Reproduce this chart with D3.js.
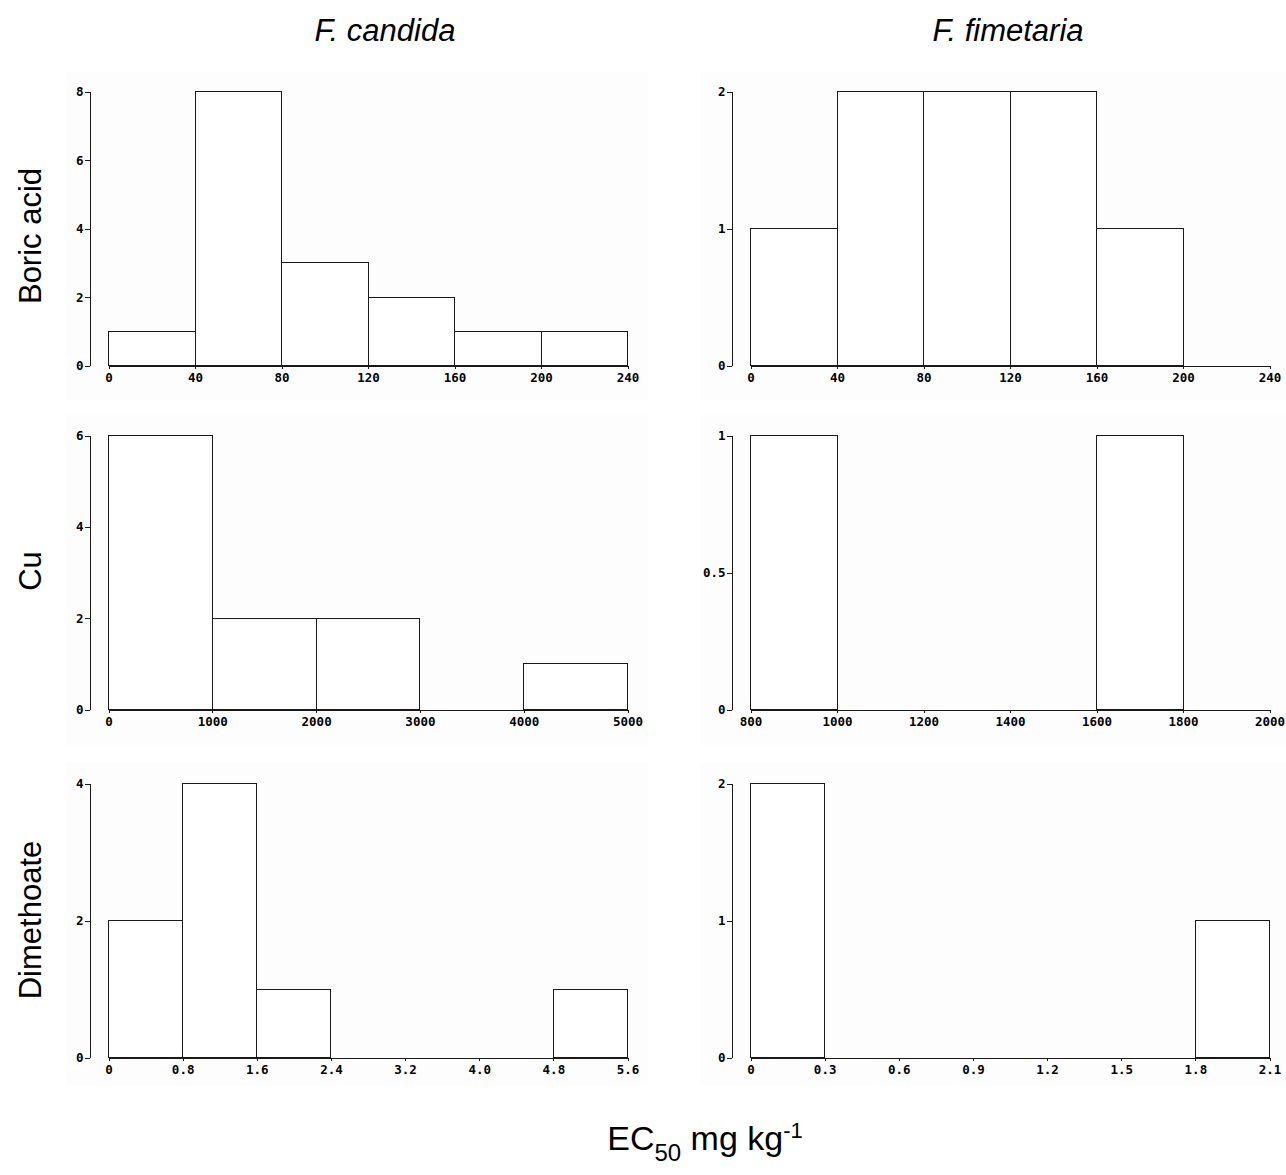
<!DOCTYPE html>
<html>
<head>
<meta charset="utf-8">
<script src="https://cdn.jsdelivr.net/npm/d3@7"></script>
<style>
body { margin: 0; background: #fff; }
svg { display: block; }
.tick text { font-family: 'DejaVu Sans Mono', monospace; font-weight: bold; font-size: 12.5px; fill: #000; }
.lab { font-family: 'Liberation Sans', Arial, sans-serif; fill: #000; }
</style>
</head>
<body>
<div id="chart"></div>
<script>
// species (columns) and substances (rows)
var SPECIES = ['F. candida', 'F. fimetaria'];
var SUBSTANCES = ['Boric acid', 'Cu', 'Dimethoate'];

// bin edges and counts per panel
var boricCandidaEdges = [0, 40, 80, 120, 160, 200, 240];
var boricCandidaCounts = [1, 8, 3, 2, 1, 1];
var boricCandidaYTicks = [0, 2, 4, 6, 8];
var boricCandidaLabels = ['0', '40', '80', '120', '160', '200', '240'];

var boricFimetariaEdges = [0, 40, 80, 120, 160, 200, 240];
var boricFimetariaCounts = [1, 2, 2, 2, 1, 0];
var boricFimetariaYTicks = [0, 1, 2];
var boricFimetariaLabels = ['0', '40', '80', '120', '160', '200', '240'];

var cuCandidaEdges = [0, 1000, 2000, 3000, 4000, 5000];
var cuCandidaCounts = [6, 2, 2, 0, 1];
var cuCandidaYTicks = [0, 2, 4, 6];
var cuCandidaLabels = ['0', '1000', '2000', '3000', '4000', '5000'];

var cuFimetariaEdges = [800, 1000, 1200, 1400, 1600, 1800, 2000];
var cuFimetariaCounts = [1, 0, 0, 0, 1, 0];
var cuFimetariaYTicks = [0, 0.5, 1];
var cuFimetariaLabels = ['800', '1000', '1200', '1400', '1600', '1800', '2000'];

var dimCandidaEdges = [0, 0.8, 1.6, 2.4, 3.2, 4.0, 4.8, 5.6];
var dimCandidaCounts = [2, 4, 1, 0, 0, 0, 1];
var dimCandidaYTicks = [0, 2, 4];
var dimCandidaLabels = ['0', '0.8', '1.6', '2.4', '3.2', '4.0', '4.8', '5.6'];

var dimFimetariaEdges = [0, 0.3, 0.6, 0.9, 1.2, 1.5, 1.8, 2.1];
var dimFimetariaCounts = [2, 0, 0, 0, 0, 0, 1];
var dimFimetariaYTicks = [0, 1, 2];
var dimFimetariaLabels = ['0', '0.3', '0.6', '0.9', '1.2', '1.5', '1.8', '2.1'];

var panels = [
    {row: 0, col: 0, edges: boricCandidaEdges, counts: boricCandidaCounts, yt: boricCandidaYTicks, xl: boricCandidaLabels},
    {row: 0, col: 1, edges: boricFimetariaEdges, counts: boricFimetariaCounts, yt: boricFimetariaYTicks, xl: boricFimetariaLabels},
    {row: 1, col: 0, edges: cuCandidaEdges, counts: cuCandidaCounts, yt: cuCandidaYTicks, xl: cuCandidaLabels},
    {row: 1, col: 1, edges: cuFimetariaEdges, counts: cuFimetariaCounts, yt: cuFimetariaYTicks, xl: cuFimetariaLabels},
    {row: 2, col: 0, edges: dimCandidaEdges, counts: dimCandidaCounts, yt: dimCandidaYTicks, xl: dimCandidaLabels},
    {row: 2, col: 1, edges: dimFimetariaEdges, counts: dimFimetariaCounts, yt: dimFimetariaYTicks, xl: dimFimetariaLabels}
];

var WIDTH = 1286, HEIGHT = 1175;
var PLOT_W = 519, PLOT_H = 274;
var COL_X = [108, 750];
var ROW_Y = [365, 709, 1057];
var AXIS_GAP = 19;
var INK = '#1a1a1a';

var svg = d3.select('#chart').append('svg')
    .attr('width', WIDTH)
    .attr('height', HEIGHT);

// faint panel backgrounds
var BG_X = [[66, 648], [700, 1286]];
var BG_Y = [[72, 400], [415, 745], [762, 1085]];
for (var r = 0; r < 3; r++) {
    for (var c = 0; c < 2; c++) {
        svg.append('rect')
            .attr('x', BG_X[c][0]).attr('y', BG_Y[r][0])
            .attr('width', BG_X[c][1] - BG_X[c][0])
            .attr('height', BG_Y[r][1] - BG_Y[r][0])
            .attr('fill', '#fdfdfd');
    }
}

panels.forEach(function(p) {
    var n = p.edges.length;
    var sx = d3.scaleLinear()
        .domain([p.edges[0], p.edges[n - 1]])
        .range([0, PLOT_W]);
    var sy = d3.scaleLinear()
        .domain([0, p.yt[p.yt.length - 1]])
        .range([0, -PLOT_H]);

    var g = svg.append('g')
        .attr('transform', 'translate(' + (COL_X[p.col] + 0.5) + ', ' + (ROW_Y[p.row] + 0.5) + ')');

    var bins = p.counts.map(function(v, i) {
        return {x0: p.edges[i], x1: p.edges[i + 1], n: v};
    }).filter(function(b) { return b.n > 0; });

    g.selectAll('.bar').data(bins).enter()
        .append('rect')
        .attr('class', 'bar')
        .attr('x', function(d) { return sx(d.x0); })
        .attr('y', function(d) { return sy(d.n); })
        .attr('width', function(d) { return sx(d.x1) - sx(d.x0); })
        .attr('height', function(d) { return -sy(d.n); })
        .attr('fill', '#fff')
        .attr('stroke', INK)
        .attr('stroke-width', 1)
        .attr('shape-rendering', 'crispEdges');

    var ax = d3.axisBottom(sx)
        .tickValues(p.edges)
        .tickFormat(function(d, i) { return p.xl[i]; })
        .tickSize(3)
        .tickSizeOuter(0)
        .tickPadding(5);
    var ay = d3.axisLeft(sy)
        .tickValues(p.yt)
        .tickFormat(function(d) { return String(d); })
        .tickSize(5)
        .tickSizeOuter(0)
        .tickPadding(1);

    var gx = g.append('g').call(ax);
    var gy = g.append('g')
        .attr('transform', 'translate(' + (-AXIS_GAP) + ', 0)')
        .call(ay);

    [gx, gy].forEach(function(a) {
        a.select('.domain').attr('stroke', INK).attr('shape-rendering', 'crispEdges');
        a.selectAll('.tick line').attr('stroke', INK).attr('shape-rendering', 'crispEdges');
    });
});

// column titles
var TITLE_X = [385, 1008];
svg.selectAll('.title').data(SPECIES).enter()
    .append('text')
    .attr('class', 'lab title')
    .attr('x', function(d, i) { return TITLE_X[i]; })
    .attr('y', 41)
    .attr('text-anchor', 'middle')
    .attr('font-size', 31)
    .attr('font-style', 'italic')
    .text(function(d) { return d; });

// row labels
var ROW_MID = [236, 571, 920];
svg.selectAll('.rowlab').data(SUBSTANCES).enter()
    .append('text')
    .attr('class', 'lab rowlab')
    .attr('transform', function(d, i) { return 'translate(41, ' + ROW_MID[i] + ') rotate(-90)'; })
    .attr('text-anchor', 'middle')
    .attr('font-size', 31)
    .text(function(d) { return d; });

// x-axis title
var xt = svg.append('text')
    .attr('class', 'lab')
    .attr('x', 705)
    .attr('y', 1150)
    .attr('text-anchor', 'middle')
    .attr('font-size', 34);
xt.append('tspan').text('EC');
xt.append('tspan').attr('font-size', 24).attr('dy', 11).text('50');
xt.append('tspan').attr('dy', -11).text(' mg kg');
xt.append('tspan').attr('font-size', 22).attr('dy', -12).text('-1');
</script>
</body>
</html>
